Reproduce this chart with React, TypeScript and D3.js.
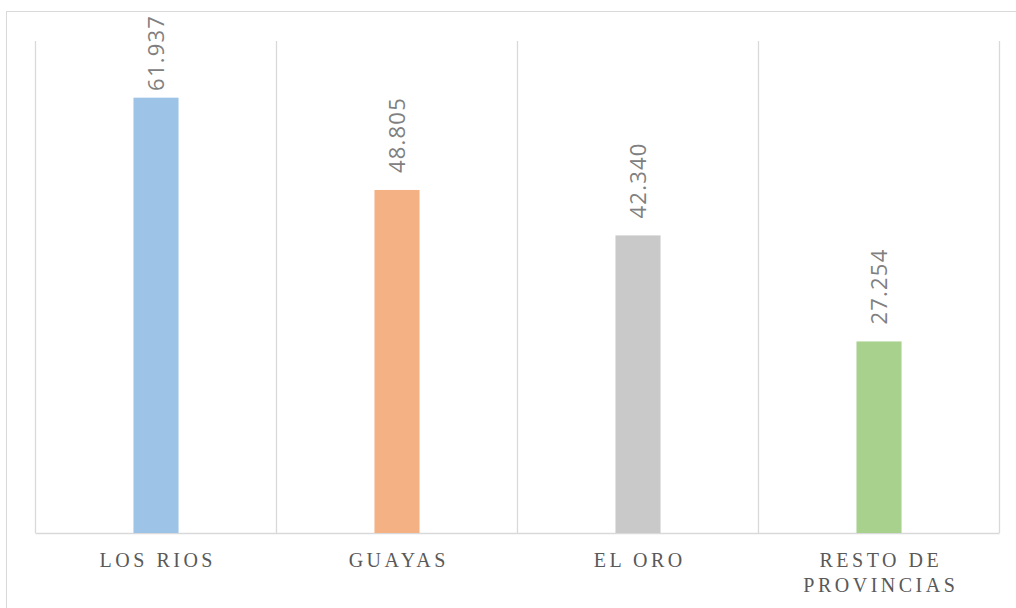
import React, { useRef, useEffect } from "react";
import * as d3 from "d3";

const provinces = ["LOS RIOS", "GUAYAS", "EL ORO", "RESTO DE|PROVINCIAS"];
const values = [61.937, 48.805, 42.34, 27.254];
const valueLabels = ["61.937", "48.805", "42.340", "27.254"];
const barColors = ["#9dc3e6", "#f4b183", "#c9c9c9", "#a9d18e"];

export default function App() {
  const ref = useRef<SVGSVGElement>(null);

  useEffect(() => {
    if (!ref.current) return;
    const svg = d3.select(ref.current);
    svg.selectAll("*").remove();

    const W = 1016;
    const H = 608;
    const plot = { left: 35.5, right: 999.5, top: 41, bottom: 533 };

    // outer chart border (runs off the right/bottom edge)
    svg
      .append("rect")
      .attr("x", 6.5)
      .attr("y", 11.5)
      .attr("width", W + 20)
      .attr("height", H + 20)
      .attr("fill", "white")
      .attr("stroke", "#d9d9d9")
      .attr("stroke-width", 1);

    const x = d3
      .scaleBand<string>()
      .domain(provinces)
      .range([plot.left, plot.right])
      .padding(0);

    const y = d3.scaleLinear().domain([0, 70]).range([plot.bottom, plot.top]);

    // vertical gridlines at category boundaries
    const bounds = provinces.map((p) => x(p)!).concat([plot.right]);
    svg
      .append("g")
      .selectAll("line")
      .data(bounds)
      .enter()
      .append("line")
      .attr("x1", (d) => d)
      .attr("x2", (d) => d)
      .attr("y1", plot.top)
      .attr("y2", plot.bottom)
      .attr("stroke", "#d9d9d9")
      .attr("stroke-width", 1.3);

    // x axis line
    svg
      .append("line")
      .attr("x1", plot.left)
      .attr("x2", plot.right)
      .attr("y1", plot.bottom + 0.5)
      .attr("y2", plot.bottom + 0.5)
      .attr("stroke", "#d9d9d9")
      .attr("stroke-width", 1.3);

    const barW = x.bandwidth() * 0.187;

    svg
      .append("g")
      .selectAll("rect")
      .data(values)
      .enter()
      .append("rect")
      .attr("x", (d, i) => x(provinces[i])! + x.bandwidth() / 2 - barW / 2)
      .attr("y", (d) => y(d))
      .attr("width", barW)
      .attr("height", (d) => y(0) - y(d))
      .attr("fill", (d, i) => barColors[i]);

    // value labels, rotated; pushed down when they'd run off the top
    const labels = svg
      .append("g")
      .selectAll("text")
      .data(values)
      .enter()
      .append("text")
      .attr("text-anchor", "start")
      .attr("font-family", "'Open Sans', sans-serif")
      .attr("font-size", "22px")
      .attr("letter-spacing", "1.2px")
      .attr("fill", "#808080")
      .text((d, i) => valueLabels[i]);

    labels.attr("transform", function (d, i) {
      const len = (this as SVGTextElement).getComputedTextLength();
      const cx = x(provinces[i])! + x.bandwidth() / 2 + 8;
      const end = Math.max(y(d) - 17, 15 + len);
      return `translate(${cx},${end}) rotate(-90)`;
    });

    // category labels
    const catG = svg.append("g");
    provinces.forEach((p) => {
      const lines = p.split("|");
      const t = catG
        .append("text")
        .attr("x", x(p)! + x.bandwidth() / 2)
        .attr("y", 567)
        .attr("text-anchor", "middle")
        .attr("font-family", "'Liberation Serif', 'Times New Roman', serif")
        .attr("font-size", "20px")
        .attr("letter-spacing", "3.5px")
        .attr("fill", "#595959");
      lines.forEach((ln, j) => {
        t.append("tspan")
          .attr("x", x(p)! + x.bandwidth() / 2 + 1.8)
          .attr("dy", j === 0 ? 0 : 25)
          .text(ln);
      });
    });
  }, []);

  return (
    <svg
      ref={ref}
      width={1016}
      height={608}
      style={{ position: "absolute", left: 0, top: 0, display: "block" }}
    />
  );
}
